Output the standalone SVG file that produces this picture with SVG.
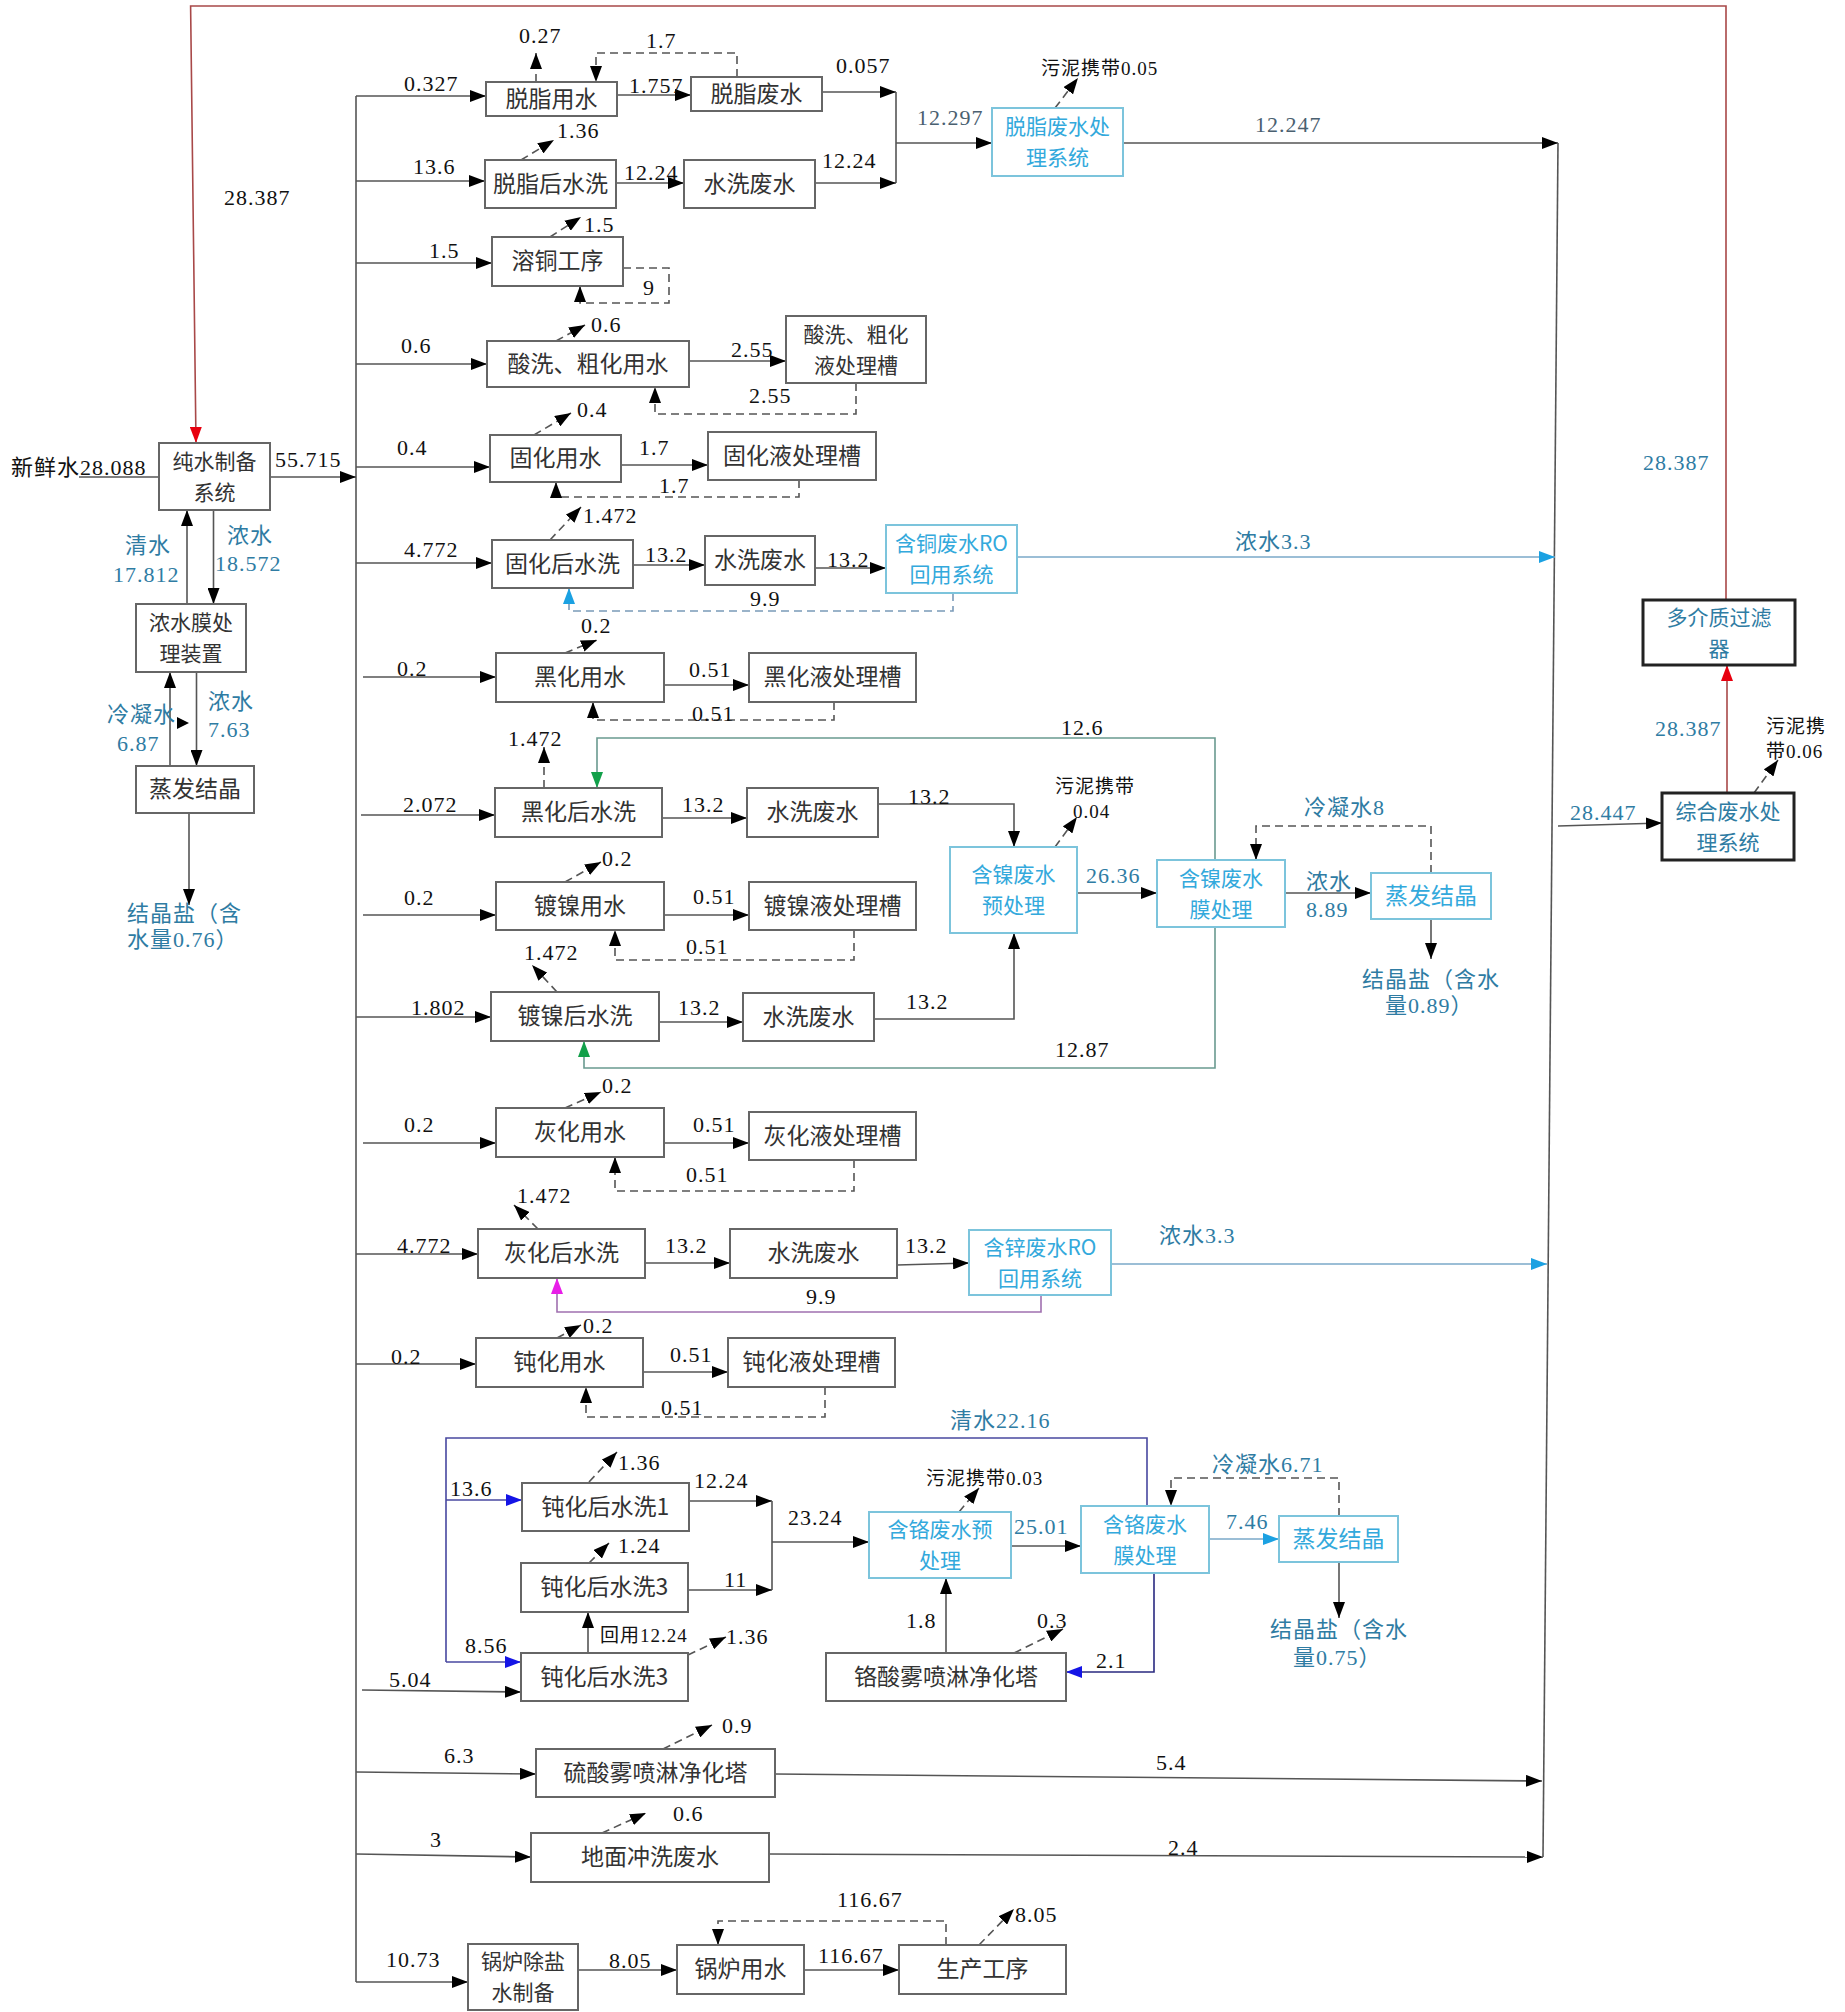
<svg xmlns="http://www.w3.org/2000/svg" width="1845" height="2012" viewBox="0 0 1845 2012">
<style>
.box{fill:#fff;stroke:#666;stroke-width:2}
.cbox{fill:#fff;stroke:#7cc4dc;stroke-width:2}
.kbox{fill:#fff;stroke:#222;stroke-width:3}
.bt{font-family:"Noto Sans CJK SC",sans-serif;font-size:23px;fill:#333;text-anchor:middle}
.b2{font-size:21px}
.ct{fill:#33a9dc}
.kt{fill:#2f7ca3}
.n{font-family:"Liberation Serif","Noto Sans CJK SC",serif;font-size:22px;fill:#111;letter-spacing:1px}
.s{font-size:19px}
.t{fill:#2f7ca3}
.g{fill:#4a6070}
.ln{fill:none;stroke:#555;stroke-width:1.6}
.ds{stroke-dasharray:8 5}
.cy{stroke:#7aa8c8}
.rd{stroke:#a84848}
.gr{stroke:#6a9a90}
.mg{stroke:#a070b0}
.nv{stroke:#4848a0}
</style>
<defs>
<marker id="a" markerUnits="userSpaceOnUse" markerWidth="16" markerHeight="12" refX="16" refY="6" orient="auto"><path d="M0,0 L16,6 L0,12 z" fill="#000"/></marker>
<marker id="ac" markerUnits="userSpaceOnUse" markerWidth="16" markerHeight="12" refX="16" refY="6" orient="auto"><path d="M0,0 L16,6 L0,12 z" fill="#1ba1e2"/></marker>
<marker id="ar" markerUnits="userSpaceOnUse" markerWidth="16" markerHeight="12" refX="16" refY="6" orient="auto"><path d="M0,0 L16,6 L0,12 z" fill="#e8000f"/></marker>
<marker id="ag" markerUnits="userSpaceOnUse" markerWidth="16" markerHeight="12" refX="16" refY="6" orient="auto"><path d="M0,0 L16,6 L0,12 z" fill="#12a04a"/></marker>
<marker id="am" markerUnits="userSpaceOnUse" markerWidth="16" markerHeight="12" refX="16" refY="6" orient="auto"><path d="M0,0 L16,6 L0,12 z" fill="#e81ee8"/></marker>
<marker id="ab" markerUnits="userSpaceOnUse" markerWidth="16" markerHeight="12" refX="16" refY="6" orient="auto"><path d="M0,0 L16,6 L0,12 z" fill="#1414e6"/></marker>
</defs>
<rect width="1845" height="2012" fill="#fff"/>

<g id="connectors">
<polyline class="ln" points="356,96 356,1982"/>
<polyline class="ln" points="79,477 159,477"/>
<polyline class="ln" points="270,477 356,477" marker-end="url(#a)"/>
<polyline class="ln" points="356,96 486,96" marker-end="url(#a)"/>
<polyline class="ln" points="356,181 485,181" marker-end="url(#a)"/>
<polyline class="ln" points="356,263 492,263" marker-end="url(#a)"/>
<polyline class="ln" points="356,364 487,364" marker-end="url(#a)"/>
<polyline class="ln" points="356,467 490,467" marker-end="url(#a)"/>
<polyline class="ln" points="356,563 492,563" marker-end="url(#a)"/>
<polyline class="ln" points="363,677 496,677" marker-end="url(#a)"/>
<polyline class="ln" points="361,815 495,815" marker-end="url(#a)"/>
<polyline class="ln" points="363,915 496,915" marker-end="url(#a)"/>
<polyline class="ln" points="356,1017 491,1017" marker-end="url(#a)"/>
<polyline class="ln" points="363,1143 496,1143" marker-end="url(#a)"/>
<polyline class="ln" points="356,1254 478,1254" marker-end="url(#a)"/>
<polyline class="ln" points="356,1364 476,1364" marker-end="url(#a)"/>
<polyline class="ln" points="362,1690 521,1692" marker-end="url(#a)"/>
<polyline class="ln" points="356,1772 536,1774" marker-end="url(#a)"/>
<polyline class="ln" points="356,1854 531,1857" marker-end="url(#a)"/>
<polyline class="ln" points="356,1982 468,1982" marker-end="url(#a)"/>
<polyline class="ln" points="187,604 187,510" marker-end="url(#a)"/>
<polyline class="ln" points="213.5,510 213.5,604" marker-end="url(#a)"/>
<polyline class="ln" points="170,766 170,672" marker-end="url(#a)"/>
<polyline class="ln" points="196.5,672 196.5,766" marker-end="url(#a)"/>
<polyline class="ln" points="189,813 189,905" marker-end="url(#a)"/>
<polygon points="177,717 189,723 177,729" fill="#000"/>
<polyline class="ln" points="617,95 691,95" marker-end="url(#a)"/>
<polyline class="ln" points="822,92 896,92" marker-end="url(#a)"/>
<polyline class="ln" points="896,92 896,183"/>
<polyline class="ln" points="616,183 684,183" marker-end="url(#a)"/>
<polyline class="ln" points="815,183 896,183" marker-end="url(#a)"/>
<polyline class="ln" points="896,143 992,143" marker-end="url(#a)"/>
<polyline class="ln" points="1123,143 1558,143" marker-end="url(#a)"/>
<polyline class="ln" points="1558,143 1543,1857"/>
<polyline class="ln ds" points="536,82 536,53" marker-end="url(#a)"/>
<polyline class="ln ds" points="737,77 737,53 596,53 596,82" marker-end="url(#a)"/>
<polyline class="ln ds" points="521,160 554,140" marker-end="url(#a)"/>
<polyline class="ln ds" points="1055,108 1078,78" marker-end="url(#a)"/>
<polyline class="ln ds" points="550,237 581,217" marker-end="url(#a)"/>
<polyline class="ln ds" points="623,268 669,268 669,303 580,303 580,286" marker-end="url(#a)"/>
<polyline class="ln ds" points="556,341 585,325" marker-end="url(#a)"/>
<polyline class="ln" points="689,361 786,361" marker-end="url(#a)"/>
<polyline class="ln ds" points="856,383 856,414 655,414 655,387" marker-end="url(#a)"/>
<polyline class="ln ds" points="534,435 571,413" marker-end="url(#a)"/>
<polyline class="ln" points="621,465 708,465" marker-end="url(#a)"/>
<polyline class="ln ds" points="799,480 799,497 556,497 556,482" marker-end="url(#a)"/>
<polyline class="ln ds" points="550,540 581,507" marker-end="url(#a)"/>
<polyline class="ln" points="633,565 705,565" marker-end="url(#a)"/>
<polyline class="ln" points="815,568 886,568" marker-end="url(#a)"/>
<polyline class="ln cy" points="1017,557 1555,557" marker-end="url(#ac)"/>
<polyline class="ln ds" style="stroke:#7a9ab8" points="953,593 953,611 569,611 569,588" marker-end="url(#ac)"/>
<polyline class="ln ds" points="565,653 597,640" marker-end="url(#a)"/>
<polyline class="ln" points="664,685 749,685" marker-end="url(#a)"/>
<polyline class="ln ds" points="834,702 834,720 593,720 593,702" marker-end="url(#a)"/>
<polyline class="ln ds" points="544,788 544,747" marker-end="url(#a)"/>
<polyline class="ln gr" points="1215,860 1215,738 597,738 597,788" marker-end="url(#ag)"/>
<polyline class="ln" points="662,818 747,818" marker-end="url(#a)"/>
<polyline class="ln" points="878,804 1014,804 1014,847" marker-end="url(#a)"/>
<polyline class="ln ds" points="1055,847 1077,817" marker-end="url(#a)"/>
<polyline class="ln" points="1077,893 1157,893" marker-end="url(#a)"/>
<polyline class="ln" points="1285,893 1371,893" marker-end="url(#a)"/>
<polyline class="ln ds" points="1431,873 1431,826 1256,826 1256,860" marker-end="url(#a)"/>
<polyline class="ln" points="1431,919 1431,959" marker-end="url(#a)"/>
<polyline class="ln" points="1558,826 1662,823" marker-end="url(#a)"/>
<polyline class="ln rd" points="1727,793 1727,665" marker-end="url(#ar)"/>
<polyline class="ln rd" points="1726,600 1726,6 190.6,6 196,443" marker-end="url(#ar)"/>
<polyline class="ln ds" points="1754,793 1778,760" marker-end="url(#a)"/>
<polyline class="ln ds" points="565,882 601,862" marker-end="url(#a)"/>
<polyline class="ln" points="664,915 749,915" marker-end="url(#a)"/>
<polyline class="ln ds" points="854,930 854,960 615,960 615,930" marker-end="url(#a)"/>
<polyline class="ln ds" points="557,992 532,965" marker-end="url(#a)"/>
<polyline class="ln" points="659,1022 743,1022" marker-end="url(#a)"/>
<polyline class="ln" points="874,1019 1014,1019 1014,933" marker-end="url(#a)"/>
<polyline class="ln gr" points="1215,927 1215,1068 584,1068 584,1041" marker-end="url(#ag)"/>
<polyline class="ln ds" points="565,1108 601,1092" marker-end="url(#a)"/>
<polyline class="ln" points="664,1143 749,1143" marker-end="url(#a)"/>
<polyline class="ln ds" points="854,1160 854,1191 615,1191 615,1157" marker-end="url(#a)"/>
<polyline class="ln ds" points="538,1229 514,1205" marker-end="url(#a)"/>
<polyline class="ln" points="645,1263 730,1263" marker-end="url(#a)"/>
<polyline class="ln" points="897,1265 969,1263" marker-end="url(#a)"/>
<polyline class="ln cy" points="1111,1264 1547,1264" marker-end="url(#ac)"/>
<polyline class="ln mg" points="1041,1295 1041,1312 557,1312 557,1278" marker-end="url(#am)"/>
<polyline class="ln ds" points="557,1338 581,1325" marker-end="url(#a)"/>
<polyline class="ln" points="643,1372 728,1372" marker-end="url(#a)"/>
<polyline class="ln ds" points="825,1387 825,1417 586,1417 586,1387" marker-end="url(#a)"/>
<polyline class="ln nv" points="1147,1506 1147,1438 446,1438 446,1662"/>
<polyline class="ln nv" points="446,1500 522,1500" marker-end="url(#ab)"/>
<polyline class="ln nv" points="446,1662 521,1662" marker-end="url(#ab)"/>
<polyline class="ln ds" points="589,1482 617,1452" marker-end="url(#a)"/>
<polyline class="ln" points="689,1501 772,1501" marker-end="url(#a)"/>
<polyline class="ln" points="772,1501 772,1590"/>
<polyline class="ln" points="688,1590 772,1590" marker-end="url(#a)"/>
<polyline class="ln ds" points="589,1563 609,1543" marker-end="url(#a)"/>
<polyline class="ln" points="588,1653 588,1612" marker-end="url(#a)"/>
<polyline class="ln ds" points="688,1655 726,1637" marker-end="url(#a)"/>
<polyline class="ln" points="772,1542 869,1542" marker-end="url(#a)"/>
<polyline class="ln ds" points="959,1512 979,1488" marker-end="url(#a)"/>
<polyline class="ln" points="1011,1546 1081,1546" marker-end="url(#a)"/>
<polyline class="ln cy" points="1209,1539 1279,1539" marker-end="url(#ac)"/>
<polyline class="ln ds" points="1339,1516 1339,1478 1171,1478 1171,1506" marker-end="url(#a)"/>
<polyline class="ln" points="1339,1562 1339,1618" marker-end="url(#a)"/>
<polyline class="ln" style="stroke:#2a2a80" points="1154,1573 1154,1672 1066,1672" marker-end="url(#ab)"/>
<polyline class="ln" points="946,1653 946,1578" marker-end="url(#a)"/>
<polyline class="ln ds" points="1014,1653 1063,1629" marker-end="url(#a)"/>
<polyline class="ln ds" points="663,1749 712,1725" marker-end="url(#a)"/>
<polyline class="ln" points="775,1774 1542,1781" marker-end="url(#a)"/>
<polyline class="ln ds" points="602,1833 646,1813" marker-end="url(#a)"/>
<polyline class="ln" points="769,1854 1543,1857" marker-end="url(#a)"/>
<polyline class="ln" points="578,1970 677,1970" marker-end="url(#a)"/>
<polyline class="ln" points="804,1970 899,1970" marker-end="url(#a)"/>
<polyline class="ln ds" points="946,1945 946,1921 718,1921 718,1945" marker-end="url(#a)"/>
<polyline class="ln ds" points="979,1945 1014,1909" marker-end="url(#a)"/>
</g>

<g id="n-pure"><rect class="box" x="159" y="443" width="111" height="67"/><text class="bt b2"><tspan x="214.5" y="468.5">纯水制备</tspan><tspan x="214.5" y="499.5">系统</tspan></text></g>
<g id="n-membrane"><rect class="box" x="136" y="604" width="110" height="68"/><text class="bt b2"><tspan x="191" y="630">浓水膜处</tspan><tspan x="191" y="661">理装置</tspan></text></g>
<g id="n-evap1"><rect class="box" x="136" y="766" width="118" height="47"/><text class="bt" x="195" y="797">蒸发结晶</text></g>
<g id="n-degrease"><rect class="box" x="486" y="82" width="131" height="34"/><text class="bt" x="551.5" y="107">脱脂用水</text></g>
<g id="n-degrease-ww"><rect class="box" x="691" y="77" width="131" height="34"/><text class="bt" x="756.5" y="102">脱脂废水</text></g>
<g id="n-degrease-rinse"><rect class="box" x="485" y="160" width="131" height="48"/><text class="bt" x="550.5" y="192">脱脂后水洗</text></g>
<g id="n-rinse-ww1"><rect class="box" x="684" y="160" width="131" height="48"/><text class="bt" x="749.5" y="192">水洗废水</text></g>
<g id="n-degrease-sys"><rect class="cbox" x="992" y="108" width="131" height="68"/><text class="bt b2 ct"><tspan x="1057.5" y="134">脱脂废水处</tspan><tspan x="1057.5" y="165">理系统</tspan></text></g>
<g id="n-cu-dissolve"><rect class="box" x="492" y="237" width="131" height="49"/><text class="bt" x="557.5" y="269">溶铜工序</text></g>
<g id="n-pickle"><rect class="box" x="487" y="341" width="202" height="46"/><text class="bt" x="588" y="372">酸洗、粗化用水</text></g>
<g id="n-pickle-tank"><rect class="box" x="786" y="316" width="140" height="67"/><text class="bt b2"><tspan x="856" y="341.5">酸洗、粗化</tspan><tspan x="856" y="372.5">液处理槽</tspan></text></g>
<g id="n-solid"><rect class="box" x="490" y="435" width="131" height="47"/><text class="bt" x="555.5" y="466">固化用水</text></g>
<g id="n-solid-tank"><rect class="box" x="708" y="432" width="168" height="48"/><text class="bt" x="792" y="464">固化液处理槽</text></g>
<g id="n-solid-rinse"><rect class="box" x="492" y="540" width="141" height="48"/><text class="bt" x="562.5" y="572">固化后水洗</text></g>
<g id="n-rinse-ww2"><rect class="box" x="705" y="536" width="110" height="49"/><text class="bt" x="760" y="568">水洗废水</text></g>
<g id="n-cu-ro"><rect class="cbox" x="886" y="525" width="131" height="68"/><text class="bt b2 ct"><tspan x="951.5" y="551">含铜废水RO</tspan><tspan x="951.5" y="582">回用系统</tspan></text></g>
<g id="n-black"><rect class="box" x="496" y="653" width="168" height="49"/><text class="bt" x="580" y="685">黑化用水</text></g>
<g id="n-black-tank"><rect class="box" x="749" y="653" width="167" height="49"/><text class="bt" x="832.5" y="685">黑化液处理槽</text></g>
<g id="n-black-rinse"><rect class="box" x="495" y="788" width="167" height="49"/><text class="bt" x="578.5" y="820">黑化后水洗</text></g>
<g id="n-rinse-ww3"><rect class="box" x="747" y="788" width="131" height="49"/><text class="bt" x="812.5" y="820">水洗废水</text></g>
<g id="n-ni-pre"><rect class="cbox" x="950" y="847" width="127" height="86"/><text class="bt b2 ct"><tspan x="1013.5" y="882">含镍废水</tspan><tspan x="1013.5" y="913">预处理</tspan></text></g>
<g id="n-ni-mem"><rect class="cbox" x="1157" y="860" width="128" height="67"/><text class="bt b2 ct"><tspan x="1221" y="885.5">含镍废水</tspan><tspan x="1221" y="916.5">膜处理</tspan></text></g>
<g id="n-ni-evap"><rect class="cbox" x="1371" y="873" width="120" height="46"/><text class="bt ct" x="1431" y="904">蒸发结晶</text></g>
<g id="n-ni"><rect class="box" x="496" y="882" width="168" height="48"/><text class="bt" x="580" y="914">镀镍用水</text></g>
<g id="n-ni-tank"><rect class="box" x="749" y="882" width="167" height="48"/><text class="bt" x="832.5" y="914">镀镍液处理槽</text></g>
<g id="n-ni-rinse"><rect class="box" x="491" y="992" width="168" height="49"/><text class="bt" x="575" y="1024">镀镍后水洗</text></g>
<g id="n-rinse-ww4"><rect class="box" x="743" y="993" width="131" height="48"/><text class="bt" x="808.5" y="1025">水洗废水</text></g>
<g id="n-ash"><rect class="box" x="496" y="1108" width="168" height="49"/><text class="bt" x="580" y="1140">灰化用水</text></g>
<g id="n-ash-tank"><rect class="box" x="749" y="1112" width="167" height="48"/><text class="bt" x="832.5" y="1144">灰化液处理槽</text></g>
<g id="n-ash-rinse"><rect class="box" x="478" y="1229" width="167" height="49"/><text class="bt" x="561.5" y="1261">灰化后水洗</text></g>
<g id="n-rinse-ww5"><rect class="box" x="730" y="1229" width="167" height="49"/><text class="bt" x="813.5" y="1261">水洗废水</text></g>
<g id="n-zn-ro"><rect class="cbox" x="969" y="1230" width="142" height="65"/><text class="bt b2 ct"><tspan x="1040" y="1254.5">含锌废水RO</tspan><tspan x="1040" y="1285.5">回用系统</tspan></text></g>
<g id="n-pass"><rect class="box" x="476" y="1338" width="167" height="49"/><text class="bt" x="559.5" y="1370">钝化用水</text></g>
<g id="n-pass-tank"><rect class="box" x="728" y="1338" width="167" height="49"/><text class="bt" x="811.5" y="1370">钝化液处理槽</text></g>
<g id="n-pass-rinse1"><rect class="box" x="522" y="1483" width="167" height="48"/><text class="bt" x="605.5" y="1515">钝化后水洗1</text></g>
<g id="n-pass-rinse3a"><rect class="box" x="521" y="1563" width="167" height="49"/><text class="bt" x="604.5" y="1595">钝化后水洗3</text></g>
<g id="n-pass-rinse3b"><rect class="box" x="521" y="1653" width="167" height="48"/><text class="bt" x="604.5" y="1685">钝化后水洗3</text></g>
<g id="n-cr-pre"><rect class="cbox" x="869" y="1512" width="142" height="66"/><text class="bt b2 ct"><tspan x="940" y="1537">含铬废水预</tspan><tspan x="940" y="1568">处理</tspan></text></g>
<g id="n-cr-mem"><rect class="cbox" x="1081" y="1506" width="128" height="67"/><text class="bt b2 ct"><tspan x="1145" y="1531.5">含铬废水</tspan><tspan x="1145" y="1562.5">膜处理</tspan></text></g>
<g id="n-cr-evap"><rect class="cbox" x="1279" y="1516" width="119" height="46"/><text class="bt ct" x="1338.5" y="1547">蒸发结晶</text></g>
<g id="n-cr-scrub"><rect class="box" x="826" y="1653" width="240" height="48"/><text class="bt" x="946" y="1685">铬酸雾喷淋净化塔</text></g>
<g id="n-h2so4-scrub"><rect class="box" x="536" y="1749" width="239" height="48"/><text class="bt" x="655.5" y="1781">硫酸雾喷淋净化塔</text></g>
<g id="n-floor"><rect class="box" x="531" y="1833" width="238" height="49"/><text class="bt" x="650" y="1865">地面冲洗废水</text></g>
<g id="n-boiler-demin"><rect class="box" x="468" y="1944" width="110" height="66"/><text class="bt b2"><tspan x="523" y="1969">锅炉除盐</tspan><tspan x="523" y="2000">水制备</tspan></text></g>
<g id="n-boiler"><rect class="box" x="677" y="1945" width="127" height="49"/><text class="bt" x="740.5" y="1977">锅炉用水</text></g>
<g id="n-production"><rect class="box" x="899" y="1945" width="167" height="49"/><text class="bt" x="982.5" y="1977">生产工序</text></g>
<g id="n-filter"><rect class="kbox" x="1643" y="600" width="152" height="65"/><text class="bt b2 kt"><tspan x="1719" y="624.5">多介质过滤</tspan><tspan x="1719" y="655.5">器</tspan></text></g>
<g id="n-combined"><rect class="kbox" x="1662" y="793" width="132" height="67"/><text class="bt b2 kt"><tspan x="1728" y="818.5">综合废水处</tspan><tspan x="1728" y="849.5">理系统</tspan></text></g>

<g id="labels" class="n">
<text x="519" y="43">0.27</text>
<text x="646" y="48">1.7</text>
<text x="404" y="91">0.327</text>
<text x="629" y="93">1.757</text>
<text x="836" y="73">0.057</text>
<text class="s" x="1041" y="75">污泥携带0.05</text>
<text class="g" x="917" y="125">12.297</text>
<text class="g" x="1255" y="132">12.247</text>
<text x="557" y="138">1.36</text>
<text x="413" y="174">13.6</text>
<text x="624" y="180">12.24</text>
<text x="822" y="168">12.24</text>
<text x="224" y="205">28.387</text>
<text x="584" y="232">1.5</text>
<text x="429" y="258">1.5</text>
<text x="643" y="295">9</text>
<text x="591" y="332">0.6</text>
<text x="401" y="353">0.6</text>
<text x="731" y="357">2.55</text>
<text x="749" y="403">2.55</text>
<text x="577" y="417">0.4</text>
<text x="397" y="455">0.4</text>
<text x="639" y="455">1.7</text>
<text x="659" y="493">1.7</text>
<text x="275" y="467">55.715</text>
<text x="11" y="475">新鲜水28.088</text>
<text class="t" x="1643" y="470">28.387</text>
<text x="583" y="523">1.472</text>
<text x="404" y="557">4.772</text>
<text x="645" y="562">13.2</text>
<text x="827" y="567">13.2</text>
<text class="t" x="1235" y="549">浓水3.3</text>
<text x="750" y="606">9.9</text>
<text class="t"><tspan x="125" y="553">清水</tspan><tspan x="113" y="582">17.812</tspan></text>
<text class="t"><tspan x="227" y="543">浓水</tspan><tspan x="215" y="571">18.572</tspan></text>
<text x="581" y="633">0.2</text>
<text x="397" y="676">0.2</text>
<text x="689" y="677">0.51</text>
<text x="692" y="721">0.51</text>
<text x="1061" y="735">12.6</text>
<text x="508" y="746">1.472</text>
<text class="t"><tspan x="107" y="722">冷凝水</tspan><tspan x="117" y="751">6.87</tspan></text>
<text class="t"><tspan x="208" y="709">浓水</tspan><tspan x="208" y="737">7.63</tspan></text>
<text x="403" y="812">2.072</text>
<text x="682" y="812">13.2</text>
<text x="908" y="804">13.2</text>
<text class="s"><tspan x="1055" y="793">污泥携带</tspan><tspan x="1073" y="818">0.04</tspan></text>
<text class="t" x="1086" y="883">26.36</text>
<text class="t" x="1304" y="815">冷凝水8</text>
<text class="t"><tspan x="1306" y="889">浓水</tspan><tspan x="1306" y="917">8.89</tspan></text>
<text class="t"><tspan x="1362" y="987">结晶盐（含水</tspan><tspan x="1385" y="1013">量0.89）</tspan></text>
<text class="t" x="1655" y="736">28.387</text>
<text class="s"><tspan x="1766" y="733">污泥携</tspan><tspan x="1766" y="758">带0.06</tspan></text>
<text class="t" x="1570" y="820">28.447</text>
<text x="602" y="866">0.2</text>
<text x="404" y="905">0.2</text>
<text x="693" y="904">0.51</text>
<text x="686" y="954">0.51</text>
<text class="t"><tspan x="127" y="921">结晶盐（含</tspan><tspan x="127" y="947">水量0.76）</tspan></text>
<text x="524" y="960">1.472</text>
<text x="411" y="1015">1.802</text>
<text x="678" y="1015">13.2</text>
<text x="906" y="1009">13.2</text>
<text x="1055" y="1057">12.87</text>
<text x="602" y="1093">0.2</text>
<text x="404" y="1132">0.2</text>
<text x="693" y="1132">0.51</text>
<text x="686" y="1182">0.51</text>
<text x="517" y="1203">1.472</text>
<text x="397" y="1253">4.772</text>
<text x="665" y="1253">13.2</text>
<text x="905" y="1253">13.2</text>
<text class="t" x="1159" y="1243">浓水3.3</text>
<text x="806" y="1304">9.9</text>
<text x="583" y="1333">0.2</text>
<text x="391" y="1364">0.2</text>
<text x="670" y="1362">0.51</text>
<text x="661" y="1415">0.51</text>
<text class="t" x="950" y="1428">清水22.16</text>
<text x="618" y="1470">1.36</text>
<text class="t" x="1212" y="1472">冷凝水6.71</text>
<text class="s" x="926" y="1485">污泥携带0.03</text>
<text x="450" y="1496">13.6</text>
<text x="694" y="1488">12.24</text>
<text x="788" y="1525">23.24</text>
<text class="t" x="1014" y="1534">25.01</text>
<text class="t" x="1226" y="1529">7.46</text>
<text x="618" y="1553">1.24</text>
<text x="724" y="1587">11</text>
<text x="906" y="1628">1.8</text>
<text x="1037" y="1628">0.3</text>
<text class="t"><tspan x="1270" y="1637">结晶盐（含水</tspan><tspan x="1293" y="1665">量0.75）</tspan></text>
<text class="s" x="600" y="1642">回用12.24</text>
<text x="726" y="1644">1.36</text>
<text x="465" y="1653">8.56</text>
<text x="1096" y="1668">2.1</text>
<text x="389" y="1687">5.04</text>
<text x="722" y="1733">0.9</text>
<text x="444" y="1763">6.3</text>
<text x="1156" y="1770">5.4</text>
<text x="673" y="1821">0.6</text>
<text x="430" y="1847">3</text>
<text x="1168" y="1855">2.4</text>
<text x="837" y="1907">116.67</text>
<text x="1015" y="1922">8.05</text>
<text x="386" y="1967">10.73</text>
<text x="609" y="1968">8.05</text>
<text x="818" y="1963">116.67</text>
</g>
</svg>
